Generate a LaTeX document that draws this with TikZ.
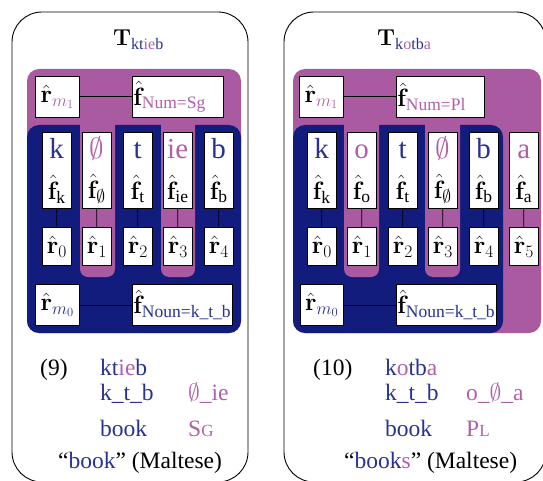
\RequirePackage{fix-cm}
\documentclass[tikz,border=0pt]{standalone}
\usepackage{amsmath}
\usepackage[no-math]{fontspec}
\setmainfont{Liberation Serif}

\definecolor{regblue}{RGB}{18,28,125}
\definecolor{regpurple}{RGB}{170,90,160}
\definecolor{tblue}{RGB}{40,50,145}
\definecolor{tpurple}{RGB}{176,96,166}

\newcommand{\Bl}[1]{{\color{tblue}#1}}
\newcommand{\Pu}[1]{{\color{tpurple}#1}}
\newcommand{\rh}{\hat{\mathbf{r}}}
\newcommand{\fh}{\hat{\mathbf{f}}}

\begin{document}
\begin{tikzpicture}[x=1pt,y=-1pt,
  panel/.style={draw=black,line width=0.9pt,rounded corners=30pt},
  bluereg/.style={fill=regblue,rounded corners=12pt},
  purplereg/.style={fill=regpurple,rounded corners=12pt},
  channel/.style={fill=regpurple,rounded corners=8pt},
  edge/.style={draw=black,line width=0.8pt},
  cellbox/.style={draw=black,fill=white,line width=0.8pt,inner sep=0pt,anchor=north west,
    minimum width=29pt,minimum height=38pt,font=\fontsize{25}{30}\selectfont},
  wordcell/.style={fill=white,inner sep=0pt,anchor=north west,
    minimum width=29pt,minimum height=38pt,text height=20pt,text depth=6pt,
    font=\fontsize{29}{34}\selectfont},
  featcell/.style={fill=white,inner sep=0pt,anchor=north west,
    minimum width=29pt,minimum height=38pt,font=\fontsize{25}{30}\selectfont},
  mbox/.style={draw=black,fill=white,line width=0.8pt,inner sep=0pt,anchor=north west,
    minimum height=41pt,font=\fontsize{25}{30}\selectfont},
  fbox/.style={draw=black,fill=white,line width=0.8pt,inner xsep=1pt,inner ysep=0pt,
    anchor=north west,minimum height=41pt,align=left,font=\fontsize{25}{30}\selectfont},
  title/.style={anchor=base west,inner sep=0pt,font=\fontsize{23}{27}\selectfont},
  gloss/.style={anchor=base west,inner sep=0pt,font=\fontsize{23.5}{28}\selectfont},
]
\useasboundingbox (0,0) rectangle (543,481);

% ---------------- left panel: ktieb ----------------
\draw[panel] (12,12) rectangle (248,482);
\node[title] (Ltitle) at (113,46) {$\mathbf{T}_{\text{\Bl{kt}\Pu{ie}\Bl{b}}}$};

\fill[purplereg] (27,69) rectangle (241,333);
\fill[bluereg] (27,125) rectangle (241,333);
\fill[channel] (80,110) rectangle (115,277);
\fill[channel] (161,110) rectangle (195,277);

\node[mbox,minimum width=44pt] (Lrm1) at (35,76) {$\rh_{\Pu{m_1}}$};
\node[fbox,text width=89pt] (Lfnum) at (132,76) {$\fh_{\text{\Pu{Num=Sg}}}$};
\draw[edge] (Lrm1) -- (Lfnum);

\foreach \x/\w/\s/\i in {
  42/\Bl{k}/k/0,
  82/\Pu{$\emptyset$}/$\emptyset$/1,
  123/\Bl{t}/t/2,
  163/\Pu{ie}/ie/3,
  204/\Bl{b}/b/4}{
  \node[wordcell] (Lw\i) at (\x,132) {\w};
  \node[featcell] (Lf\i) at (\x,170) {$\fh_{\text{\s}}$};
  \draw[edge] (Lw\i.north west) rectangle (Lf\i.south east);
  \node[cellbox] (Lr\i) at (\x,227) {$\rh_{\i}$};
  \draw[edge] (Lf\i) -- (Lr\i);
}

\node[mbox,minimum width=44pt] (Lrm0) at (35,284) {$\rh_{\Bl{m_0}}$};
\node[fbox,text width=98pt] (Lfnoun) at (132,284) {$\fh_{\text{\Bl{Noun=k\_t\_b}}}$};
\draw[edge] (Lrm0) -- (Lfnoun);

\node[gloss] (Lnum) at (40,375) {(9)};
\node[gloss] (Lform) at (100,375) {\Bl{kt}\Pu{ie}\Bl{b}};
\node[gloss] (Lroot) at (100,400) {\Bl{k\_t\_b}};
\node[gloss] (Lpat) at (188,400) {\Pu{$\emptyset$\_ie}};
\node[gloss] (Lmean) at (100,436) {\Bl{book}};
\node[gloss] (Lgram) at (188,436) {\Pu{S{\fontsize{17}{20}\selectfont G}}};
\node[gloss] (Ltrans) at (58,468) {“\Bl{book}” (Maltese)};

% ---------------- right panel: kotba ----------------
\draw[panel] (284,12) rectangle (546,482);
\node[title] (Rtitle) at (377,46) {$\mathbf{T}_{\text{\Bl{k}\Pu{o}\Bl{tb}\Pu{a}}}$};

\fill[purplereg] (293,69) rectangle (541,333);
\fill[bluereg] (293,125) rectangle (503,333);
\fill[channel] (344,110) rectangle (379,277);
\fill[channel] (425,110) rectangle (460,277);

\node[mbox,minimum width=44pt] (Rrm1) at (299,76) {$\rh_{\Pu{m_1}}$};
\node[fbox,text width=86pt] (Rfnum) at (396,76) {$\fh_{\text{\Pu{Num=Pl}}}$};
\draw[edge] (Rrm1) -- (Rfnum);

\foreach \x/\w/\s/\i in {
  307/\Bl{k}/k/0,
  347/\Pu{o}/o/1,
  388/\Bl{t}/t/2,
  428/\Pu{$\emptyset$}/$\emptyset$/3,
  469/\Bl{b}/b/4,
  509/\Pu{a}/a/5}{
  \node[wordcell] (Rw\i) at (\x,132) {\w};
  \node[featcell] (Rf\i) at (\x,170) {$\fh_{\text{\s}}$};
  \draw[edge] (Rw\i.north west) rectangle (Rf\i.south east);
  \node[cellbox] (Rr\i) at (\x,227) {$\rh_{\i}$};
  \draw[edge] (Rf\i) -- (Rr\i);
}

\node[mbox,minimum width=43pt] (Rrm0) at (300,284) {$\rh_{\Bl{m_0}}$};
\node[fbox,text width=98pt] (Rfnoun) at (396,284) {$\fh_{\text{\Bl{Noun=k\_t\_b}}}$};
\draw[edge] (Rrm0) -- (Rfnoun);

\node[gloss] (Rnum) at (313,375) {(10)};
\node[gloss] (Rform) at (385,375) {\Bl{k}\Pu{o}\Bl{tb}\Pu{a}};
\node[gloss] (Rroot) at (385,400) {\Bl{k\_t\_b}};
\node[gloss] (Rpat) at (466,400) {\Pu{o\_$\emptyset$\_a}};
\node[gloss] (Rmean) at (385,436) {\Bl{book}};
\node[gloss] (Rgram) at (466,436) {\Pu{P{\fontsize{17}{20}\selectfont L}}};
\node[gloss] (Rtrans) at (344,468) {“\Bl{book}\Pu{s}” (Maltese)};
\end{tikzpicture}
\end{document}
